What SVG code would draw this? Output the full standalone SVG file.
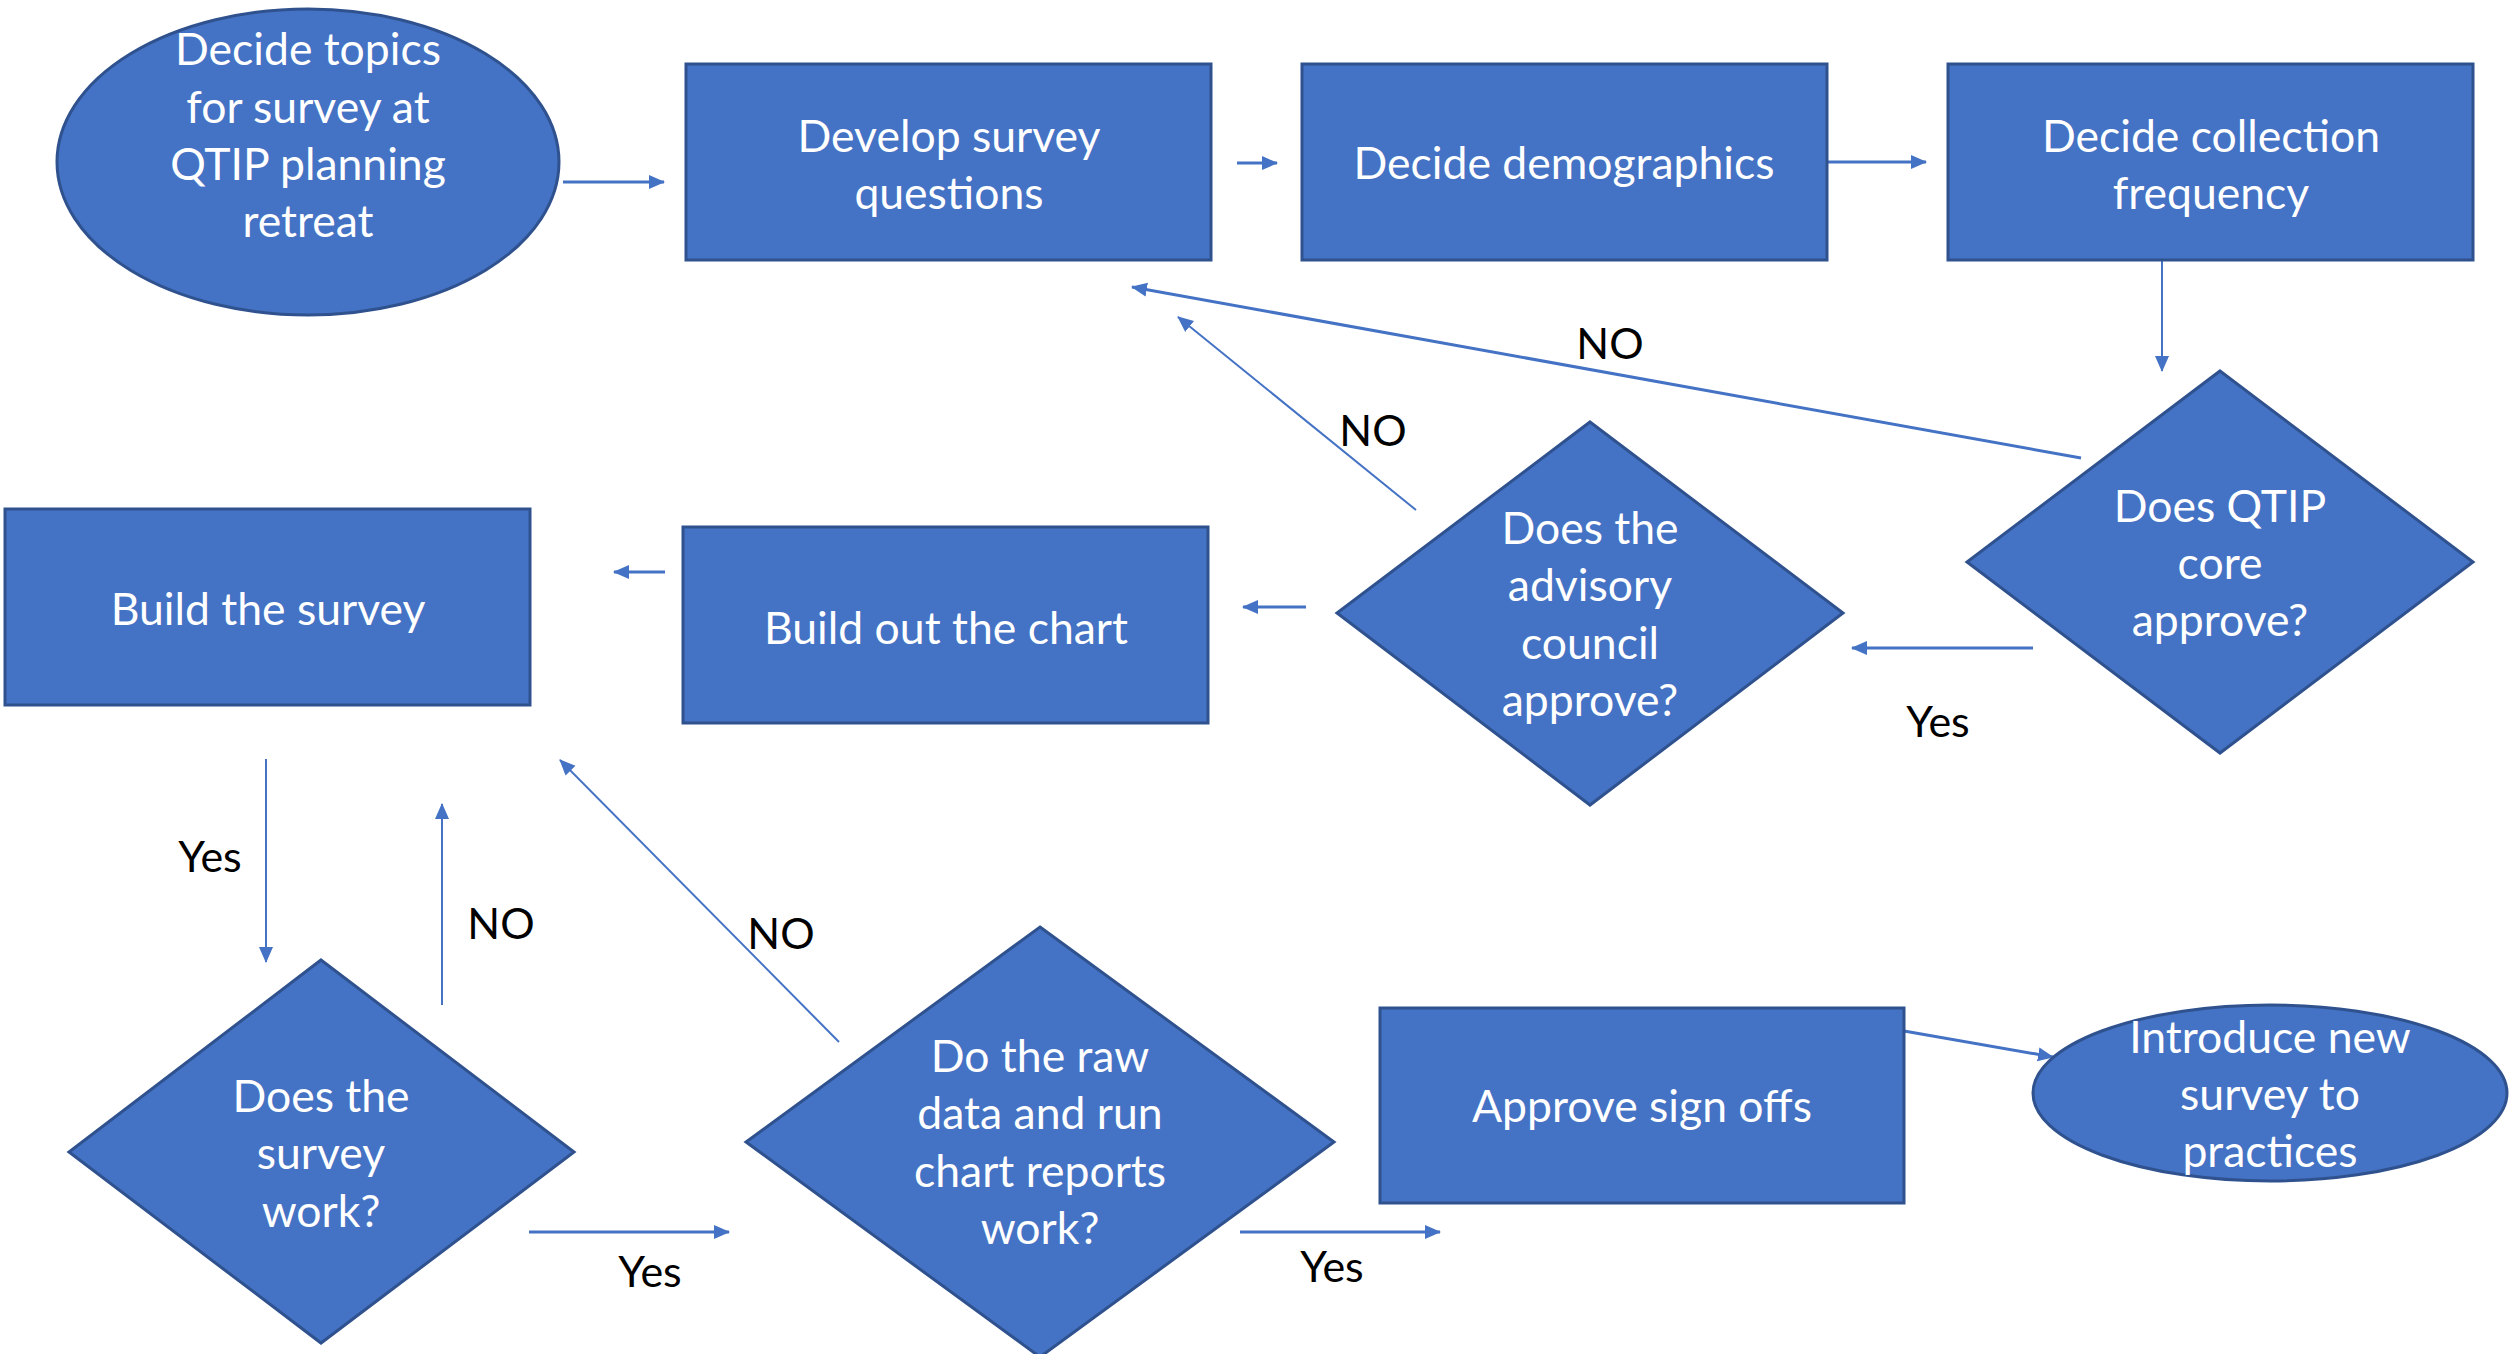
<svg xmlns="http://www.w3.org/2000/svg" width="2509" height="1354" viewBox="0 0 2509 1354">
<defs>
<style>
.node{fill:#4472C4;stroke:#2F528F;stroke-width:3}
.nt{font-family:Lato,"Open Sans",sans-serif;font-size:44.5px;fill:#FFFFFF;text-anchor:middle}
.lbl{font-family:Lato,"Open Sans",sans-serif;font-size:43px;fill:#000000;text-anchor:middle}
.c{stroke:#4472C4;stroke-width:3;fill:none;marker-end:url(#ah)}
.t{stroke-width:2}
</style>
<marker id="ah" markerUnits="userSpaceOnUse" markerWidth="16" markerHeight="16" viewBox="0 0 16 16" refX="15" refY="8" orient="auto">
<path d="M0,1 L16,8 L0,15 z" fill="#4472C4"/>
</marker>
</defs>
<rect width="2509" height="1354" fill="#FFFFFF"/>

<g id="connectors">
<line class="c" x1="563" y1="182" x2="664" y2="182"/>
<line class="c" x1="1237" y1="163" x2="1277" y2="163"/>
<line class="c" x1="1827" y1="162" x2="1926" y2="162"/>
<line class="c t" x1="2162" y1="260" x2="2162" y2="371"/>
<line class="c" x1="2081" y1="458" x2="1132" y2="287"/>
<line class="c t" x1="1416" y1="510" x2="1178" y2="317"/>
<line class="c" x1="2033" y1="648" x2="1852" y2="648"/>
<line class="c" x1="1306" y1="607" x2="1243" y2="607"/>
<line class="c" x1="665" y1="572" x2="614" y2="572"/>
<line class="c t" x1="266" y1="759" x2="266" y2="962"/>
<line class="c t" x1="442" y1="1005" x2="442" y2="804"/>
<line class="c t" x1="839" y1="1042" x2="560" y2="760"/>
<line class="c" x1="529" y1="1232" x2="729" y2="1232"/>
<line class="c" x1="1240" y1="1232" x2="1440" y2="1232"/>
<line class="c" x1="1904" y1="1031" x2="2053" y2="1057"/>
<text class="lbl" x="1610" y="359">NO</text>
<text class="lbl" x="1373" y="446">NO</text>
<text class="lbl" x="1938" y="737">Yes</text>
<text class="lbl" x="210" y="872">Yes</text>
<text class="lbl" x="501" y="939">NO</text>
<text class="lbl" x="781" y="949">NO</text>
<text class="lbl" x="650" y="1287">Yes</text>
<text class="lbl" x="1332" y="1282">Yes</text>
</g>

<g id="decide-topics">
<ellipse class="node" cx="308" cy="162" rx="251" ry="153"/>
<text class="nt" x="308" y="65">Decide topics</text>
<text class="nt" x="308" y="123">for survey at</text>
<text class="nt" x="308" y="180">QTIP planning</text>
<text class="nt" x="308" y="237">retreat</text>
</g>

<g id="develop-questions">
<rect class="node" x="686" y="64" width="525" height="196"/>
<text class="nt" x="949" y="152">Develop survey</text>
<text class="nt" x="949" y="209">questions</text>
</g>

<g id="decide-demographics">
<rect class="node" x="1302" y="64" width="525" height="196"/>
<text class="nt" x="1564" y="179">Decide demographics</text>
</g>

<g id="decide-frequency">
<rect class="node" x="1948" y="64" width="525" height="196"/>
<text class="nt" x="2211" y="152">Decide collection</text>
<text class="nt" x="2211" y="209">frequency</text>
</g>

<g id="qtip-core">
<polygon class="node" points="2220,371 2473,562 2220,753 1967,562"/>
<text class="nt" x="2220" y="522">Does QTIP</text>
<text class="nt" x="2220" y="579">core</text>
<text class="nt" x="2220" y="636">approve?</text>
</g>

<g id="advisory-council">
<polygon class="node" points="1590,422 1843,613 1590,805 1337,613"/>
<text class="nt" x="1590" y="544">Does the</text>
<text class="nt" x="1590" y="601">advisory</text>
<text class="nt" x="1590" y="659">council</text>
<text class="nt" x="1590" y="716">approve?</text>
</g>

<g id="build-chart">
<rect class="node" x="683" y="527" width="525" height="196"/>
<text class="nt" x="946" y="644">Build out the chart</text>
</g>

<g id="build-survey">
<rect class="node" x="5" y="509" width="525" height="196"/>
<text class="nt" x="268" y="625">Build the survey</text>
</g>

<g id="survey-work">
<polygon class="node" points="321,960 574,1152 321,1343 69,1152"/>
<text class="nt" x="321" y="1112">Does the</text>
<text class="nt" x="321" y="1169">survey</text>
<text class="nt" x="321" y="1227">work?</text>
</g>

<g id="raw-data">
<polygon class="node" points="1040,927 1334,1142 1040,1357 746,1142"/>
<text class="nt" x="1040" y="1072">Do the raw</text>
<text class="nt" x="1040" y="1129">data and run</text>
<text class="nt" x="1040" y="1187">chart reports</text>
<text class="nt" x="1040" y="1244">work?</text>
</g>

<g id="approve-signoffs">
<rect class="node" x="1380" y="1008" width="524" height="195"/>
<text class="nt" x="1642" y="1122">Approve sign offs</text>
</g>

<g id="introduce-survey">
<ellipse class="node" cx="2270" cy="1093" rx="237" ry="88"/>
<text class="nt" x="2270" y="1053">Introduce new</text>
<text class="nt" x="2270" y="1110">survey to</text>
<text class="nt" x="2270" y="1167">practices</text>
</g>
</svg>
